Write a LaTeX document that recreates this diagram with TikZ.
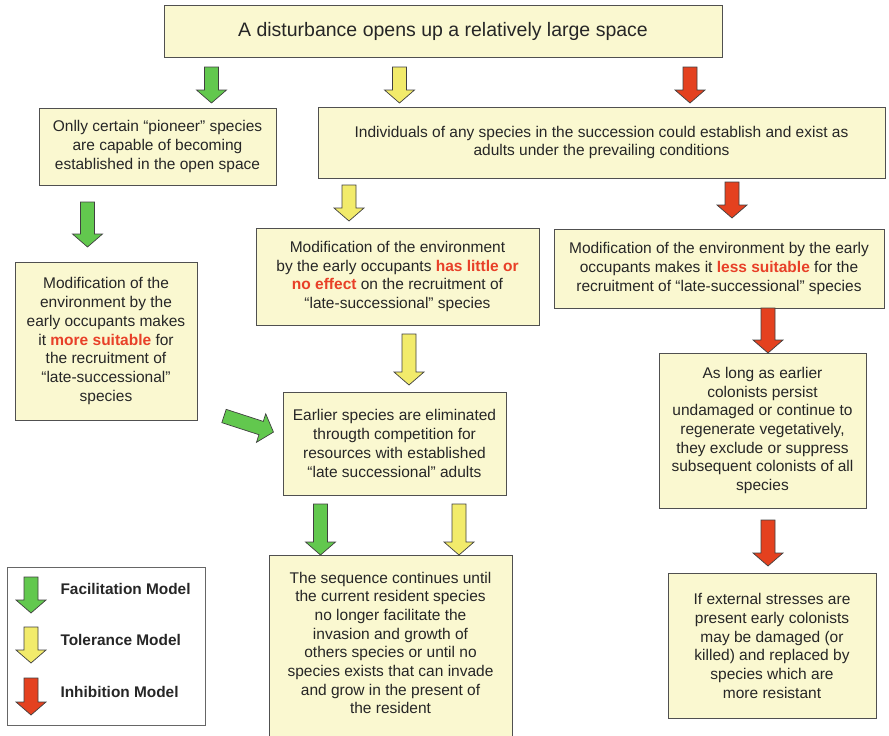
\documentclass[tikz,border=0pt]{standalone}
\usepackage{fontspec}
\setmainfont{Liberation Sans}
\definecolor{boxfill}{RGB}{250,248,208}
\definecolor{boxline}{RGB}{80,80,80}
\definecolor{facgreen}{RGB}{98,200,78}
\definecolor{tolyellow}{RGB}{242,235,107}
\definecolor{inhred}{RGB}{228,65,31}
\definecolor{keyred}{RGB}{232,64,40}
\newcommand\keyword[1]{\textbf{\color{keyred}#1}}
% block arrow: tail centre (#1), length #2, rotation #3, fill colour #4
\newcommand\blockarr[4]{%
  \begin{scope}[shift={(#1)},rotate=#3]
    \draw[arrowshape,fill=#4] (-7,0) -- (7,0) -- (7,#2-13) -- (15,#2-13) -- (0,#2)
      -- (-15,#2-13) -- (-7,#2-13) -- cycle;
  \end{scope}}
\begin{document}
\begin{tikzpicture}[x=1pt,y=-1pt,
  box/.style={draw=boxline,line width=0.9pt,fill=boxfill,inner sep=0pt,
    align=center,font=\fontsize{15.5}{18.7}\selectfont,text=black!85},
  arrowshape/.style={draw=black!75,line width=0.7pt,line join=miter},
  legendtext/.style={anchor=west,font=\fontsize{15.4}{18}\selectfont\bfseries,text=black!85}]
\useasboundingbox (0,0) rectangle (889,736);

% boxes
\node[box,minimum width=558pt,minimum height=52pt,font=\fontsize{19.5}{23}\selectfont]
  (top) at (443,31) {A disturbance opens up a relatively large space};
\node[box,minimum width=237pt,minimum height=77pt] (pioneer) at (157.5,146.5)
  {Onlly certain “pioneer” species\\are capable of becoming\\established in the open space};
\node[box,minimum width=567pt,minimum height=71pt] (indiv) at (601.5,142.5)
  {Individuals of any species in the succession could establish and exist as\\adults under the prevailing conditions};
\node[box,minimum width=182pt,minimum height=158pt] (facmod) at (106,341)
  {Modification of the\\environment by the\\early occupants makes\\it \keyword{more suitable} for\\the recruitment of\\“late-successional”\\species};
\node[box,minimum width=283pt,minimum height=97pt] (tolmod) at (397.5,276.5)
  {Modification of the environment\\by the early occupants \keyword{has little or}\\\keyword{no effect} on the recruitment of\\“late-successional” species};
\node[box,minimum width=330pt,minimum height=79pt] (inhmod) at (719,268.5)
  {Modification of the environment by the early\\occupants makes it \keyword{less suitable} for the\\recruitment of “late-successional” species};
\node[box,minimum width=223pt,minimum height=103pt] (earlier) at (394.5,443.5)
  {Earlier species are eliminated\\througth competition for\\resources with established\\“late successional” adults};
\node[box,minimum width=243pt,minimum height=195pt] (seqbox) at (390.5,652.5) {};
\node[box,draw=none,fill=none] (seq) at (390.5,643)
  {The sequence continues until\\the current resident species\\no longer facilitate the\\invasion and growth of\\others species or until no\\species exists that can invade\\and grow in the present of\\the resident};
\node[box,minimum width=207pt,minimum height=155pt] (aslong) at (762.5,430.5)
  {As long as earlier\\colonists persist\\undamaged or continue to\\regenerate vegetatively,\\they exclude or suppress\\subsequent colonists of all\\species};
\node[box,minimum width=208pt,minimum height=145pt] (ifext) at (772,646)
  {If external stresses are\\present early colonists\\may be damaged (or\\killed) and replaced by\\species which are\\more resistant};

% legend
\node[draw=black!60,line width=0.8pt,fill=white,minimum width=198pt,minimum height=158pt]
  (legend) at (106,646) {};
\node[legendtext] (legfac) at (57,589) {Facilitation Model};
\node[legendtext] (legtol) at (57,640) {Tolerance Model};
\node[legendtext] (leginh) at (57,692) {Inhibition Model};

% block arrows
\blockarr{211.5,67}{36}{0}{facgreen}
\blockarr{399.5,67}{36}{0}{tolyellow}
\blockarr{690,67}{36}{0}{inhred}
\blockarr{87.5,202}{45}{0}{facgreen}
\blockarr{349,185}{36}{0}{tolyellow}
\blockarr{732,182}{36}{0}{inhred}
\blockarr{409,334}{51}{0}{tolyellow}
\blockarr{224,416}{52}{72}{facgreen}
\blockarr{320.5,504}{51}{0}{facgreen}
\blockarr{459,504}{51}{0}{tolyellow}
\blockarr{768,308}{45}{0}{inhred}
\blockarr{768,520}{46}{0}{inhred}
\blockarr{31,577}{36}{0}{facgreen}
\blockarr{31,627}{36}{0}{tolyellow}
\blockarr{31,678}{37}{0}{inhred}
\end{tikzpicture}
\end{document}
